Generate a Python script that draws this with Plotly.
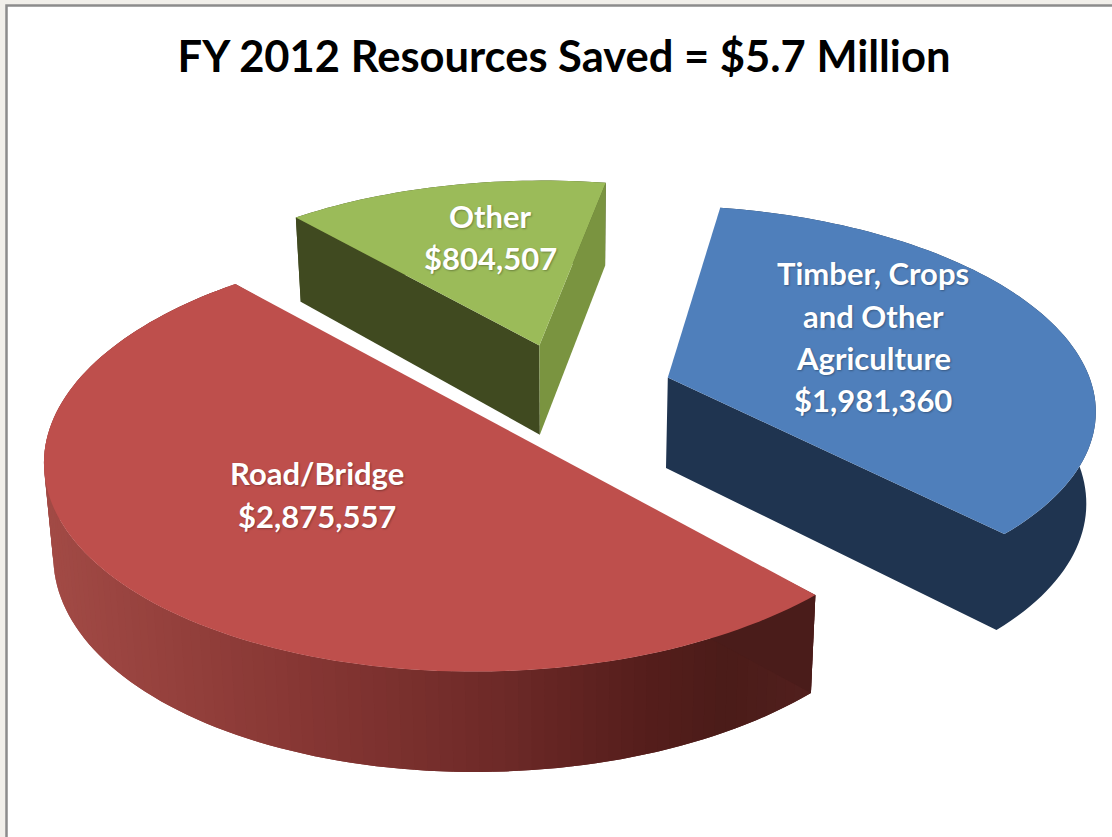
import math
import numpy as np
import plotly.graph_objects as go

# ---- data ----
categories = ["Road/Bridge", "Timber, Crops and Other Agriculture", "Other"]
values = [2875557, 1981360, 804507]
title_text = "FY 2012 Resources Saved = $5.7 Million"

# ---- labels (one list of lines per category) ----
label_lines = [["Road/Bridge", "$2,875,557"],
               ["Timber, Crops", "and Other", "Agriculture", "$1,981,360"],
               ["Other", "$804,507"]]
label_x = [317, 873, 490]
label_y = [[473, 516], [273, 316, 358, 400], [216, 258]]

# ---- projection / style ----
X0, Y0, A, B, K = 567, 392, 426, 200, 0.14
EXPLODE = 0.25
DEPTH, DEPTH_K, DEPTH_PERSP = 91, 0.08, 0.018
START = -46.0  # angle at which the Timber slice begins, counter-clockwise
TOP = ["#be4f4c", "#4f7fbb", "#9bbb59"]
LEFT_FACE = ["#4a1c1a", "#1f3450", "#404a20"]
RIGHT_FACE = ["#4a1c1a", "#1f3450", "#7a9440"]
RED_X = [40, 300, 500, 650, 730, 815]
RED_C = [(163, 75, 70), (135, 55, 52), (110, 42, 40), (85, 30, 28), (75, 28, 25), (82, 32, 30)]


def project(u, v, h=0.0):
    d = 1 + K * v
    x = X0 + A * u / d
    return X0 + (x - X0) * (1 - DEPTH_PERSP * h), Y0 - B * v / d + h * DEPTH / (1 + DEPTH_K * v)


def slice_frame(a0, a1):
    mid = math.radians((a0 + a1) / 2)
    return EXPLODE * math.cos(mid), EXPLODE * math.sin(mid)


total = sum(values)
sweeps = [v / total * 360 for v in values]
# counter-clockwise order from START: Timber, Other, Road/Bridge
angles = {}
a = START
for idx in (1, 2, 0):
    angles[idx] = (a, a + sweeps[idx])
    a += sweeps[idx]

fig = go.Figure()


def poly(pts, color):
    pts = list(pts) + [pts[0]]
    fig.add_trace(go.Scatter(x=[p[0] for p in pts], y=[p[1] for p in pts], mode="none",
                             fill="toself", fillcolor=color, hoverinfo="skip", showlegend=False))


def wall_color(idx, x):
    c = [np.interp(x, RED_X, [p[i] for p in RED_C]) for i in range(3)]
    return "rgb(%d,%d,%d)" % tuple(c)


for idx in (2, 1, 0):  # paint back to front
    a0, a1 = angles[idx]
    ox, oy = slice_frame(a0, a1)
    ts = np.radians(np.linspace(a0, a1, int((a1 - a0) / 1.5) + 2))
    us = ox + np.cos(ts)
    vs = oy + np.sin(ts)
    n = len(ts)
    rim = [project(u, v) for u, v in zip(us, vs)]
    low = [project(u, v, 1) for u, v in zip(us, vs)]
    apex, apex_low = project(ox, oy), project(ox, oy, 1)
    if idx == 0:
        # outer wall strips: each one reaches over the next so that no seam shows
        for i in range(n - 1):
            j = min(i + 2, n - 1)
            poly(rim[i:j + 1] + low[i:j + 1][::-1], wall_color(idx, (rim[i][0] + rim[i + 1][0]) / 2))
        poly([apex, rim[-1], low[-1], apex_low], LEFT_FACE[idx])
        poly([apex, rim[0], low[0], apex_low], RIGHT_FACE[idx])
        # the reference draws this slice's cut as one straight edge
        poly(rim, TOP[idx])
    elif idx == 1:
        # wall and front face share one colour: one outline, no seam between them
        poly([apex] + rim + low[::-1] + [apex_low], LEFT_FACE[idx])
        poly([apex] + rim, TOP[idx])
    else:
        poly(rim + low[::-1], LEFT_FACE[idx])
        poly([apex, rim[-1], low[-1], apex_low], LEFT_FACE[idx])
        poly([apex, rim[0], low[0], apex_low], RIGHT_FACE[idx])
        poly([apex] + rim, TOP[idx])

annotations = []
for lines, x, ys in zip(label_lines, label_x, label_y):
    for line, y in zip(lines, ys):
        annotations.append(dict(x=x, y=y, text=line, showarrow=False, xanchor="center",
                                yanchor="middle",
                                font=dict(family="Lato", size=31, color="white", weight=700,
                                          shadow="1px 1px 2px rgba(0,0,0,0.3)")))

fig.update_layout(
    width=1112, height=837, margin=dict(l=0, r=0, t=0, b=0),
    paper_bgcolor="#f1efea", plot_bgcolor="rgba(0,0,0,0)",
    title=dict(text=title_text, x=564 / 1112, xanchor="center", y=1 - 57 / 837, yanchor="middle",
               font=dict(family="Lato", size=43.5, color="black", weight=700)),
    xaxis=dict(range=[0, 1112], visible=False, fixedrange=True),
    yaxis=dict(range=[837, 0], visible=False, fixedrange=True),
    shapes=[dict(type="rect", xref="x", yref="y", x0=6.5, y0=5.5, x1=1125, y1=850,
                 fillcolor="white", line=dict(color="#8c8c8c", width=2.5), layer="below")],
    annotations=annotations,
)

fig.write_html("out.html", config={"displayModeBar": False},
               post_script="document.body.style.margin='0';")
